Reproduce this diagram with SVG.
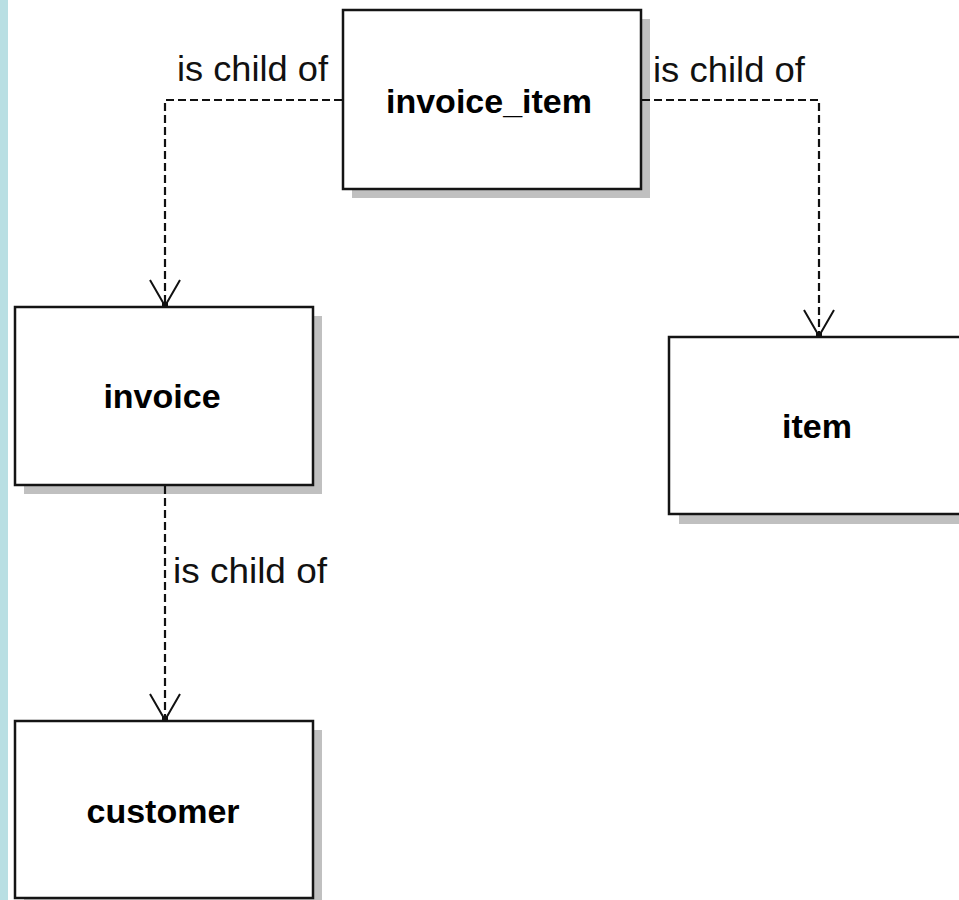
<svg xmlns="http://www.w3.org/2000/svg" width="959" height="900" viewBox="0 0 959 900">
<style>
.shadow{fill:#c0c0c0;stroke:none}
.box{fill:#ffffff;stroke:#141414;stroke-width:2.5}
.name{font-family:"Liberation Sans",Arial,sans-serif;font-weight:bold;font-size:34px;fill:#000;text-anchor:middle}
.lbl{font-family:"Liberation Sans",Arial,sans-serif;font-size:35px;fill:#111}
.conn{fill:none;stroke:#111;stroke-width:2.2;stroke-dasharray:8 4}
</style>
<defs>
<marker id="open" viewBox="-28 -18 30 36" refX="0" refY="0" markerWidth="30" markerHeight="36" markerUnits="userSpaceOnUse" orient="auto">
<path d="M-26,-15 L0,0 L-26,15" fill="none" stroke="#111" stroke-width="2"/>
<rect x="-4" y="-3" width="5" height="6" fill="#111"/>
</marker>
</defs>
<rect x="0" y="0" width="959" height="900" fill="#ffffff"/>
<rect x="0" y="0" width="8" height="900" fill="#b9dfe3"/>
<g id="invoice_item">
<rect class="shadow" x="352" y="19" width="298" height="179"/>
<rect class="box" x="343" y="10" width="298" height="179"/>
<text class="name" x="489" y="113">invoice_item</text>
</g>
<g id="invoice">
<rect class="shadow" x="24" y="316" width="298" height="178"/>
<rect class="box" x="15" y="307" width="298" height="178"/>
<text class="name" x="162" y="408">invoice</text>
</g>
<g id="item">
<rect class="shadow" x="679" y="346" width="298" height="178"/>
<rect class="box" x="669" y="337" width="298" height="177"/>
<text class="name" x="817" y="438">item</text>
</g>
<g id="customer">
<rect class="shadow" x="24" y="730" width="298" height="178"/>
<rect class="box" x="15" y="721" width="298" height="177"/>
<text class="name" x="163" y="823">customer</text>
</g>
<g id="connectors">
<path class="conn" d="M342,100 H165 V306" marker-end="url(#open)"/>
<path class="conn" d="M642,100 H819 V336" marker-end="url(#open)"/>
<path class="conn" d="M165,486 V720" marker-end="url(#open)"/>
<text class="lbl" x="177" y="81" textLength="151" lengthAdjust="spacingAndGlyphs">is child of</text>
<text class="lbl" x="653" y="82" textLength="152" lengthAdjust="spacingAndGlyphs">is child of</text>
<text class="lbl" x="173" y="583" textLength="154" lengthAdjust="spacingAndGlyphs">is child of</text>
</g>
</svg>
